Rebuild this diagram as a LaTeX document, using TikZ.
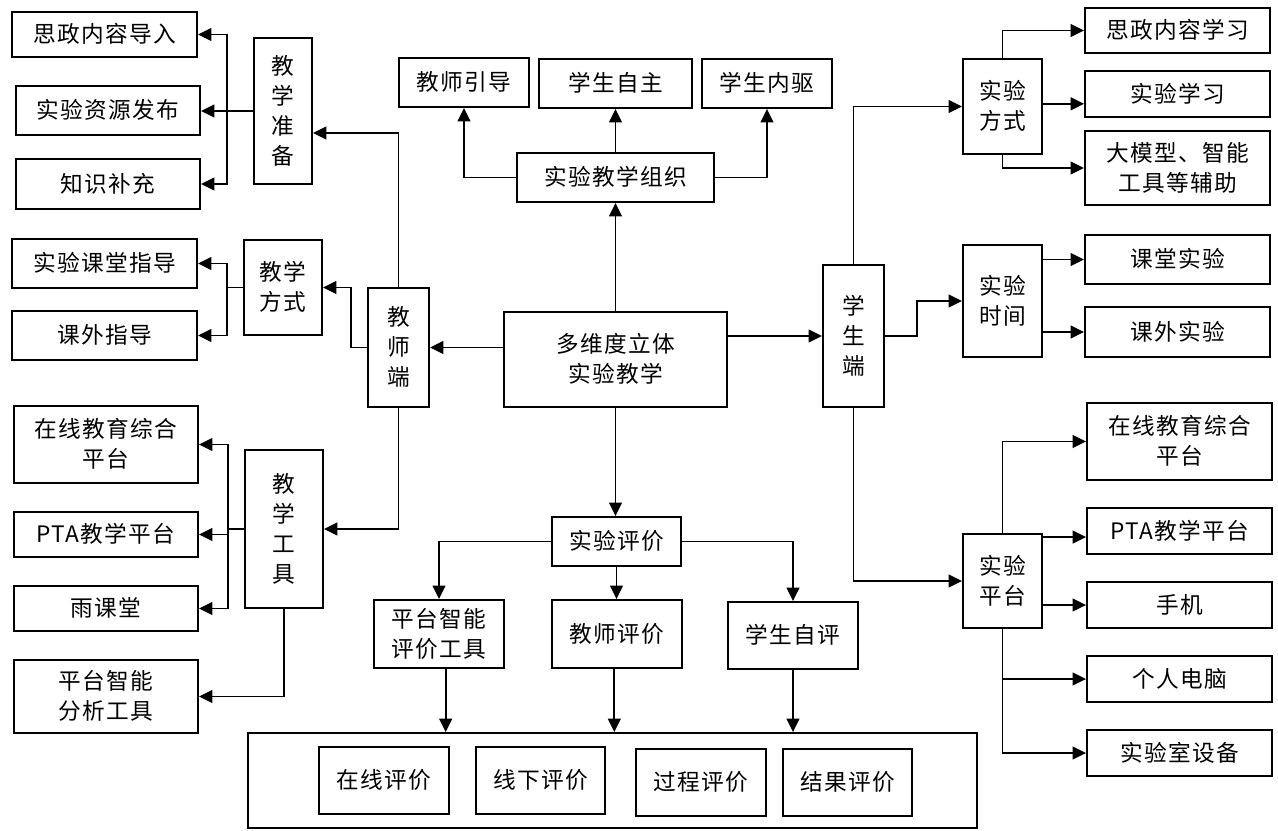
\documentclass[tikz,border=0pt]{standalone}
\usepackage{fontspec}
\setmainfont{Noto Sans CJK SC}[LetterSpace=6]
\usetikzlibrary{arrows.meta,fit,calc}
\newcommand\mybox[6]{\node[box, fit={(#2,#3) (#4,#5)}] (#1) {};
  \node[lbl] (#1-t) at ([yshift=0.4pt]#1.center) {#6};}
\begin{document}
\begin{tikzpicture}[x=0.75pt,y=-0.75pt,
  box/.style={draw, line width=1.4pt, inner sep=0pt},
  lbl/.style={inner sep=0pt, align=center, font=\fontsize{17}{22.5}\selectfont},
  arr/.style={line width=1.4pt, -{Triangle[length=10pt,width=9.5pt]}},
  ln/.style={line width=1.4pt}]
\useasboundingbox (0,0) rectangle (1278,831);
\fill[white] (0,0) rectangle (1278,831);
% left
\mybox{szdr}{12}{12}{197}{57}{思政内容导入}
\mybox{zyfb}{16}{86}{200}{135}{实验资源发布}
\mybox{zsbc}{16}{159}{200}{209}{知识补充}
\mybox{jxzb}{254}{38}{312}{184}{教\\学\\准\\备}
\mybox{ktzd}{12}{239}{197}{288}{实验课堂指导}
\mybox{kwzd}{12}{311}{197}{360}{课外指导}
\mybox{jxfs}{244}{240}{322}{335}{教学\\方式}
\mybox{jsd}{368}{288}{429}{407}{教\\师\\端}
\mybox{zxL}{14}{406}{198}{483}{在线教育综合\\平台}
\mybox{ptaL}{14}{512}{198}{557}{PTA教学平台}
\mybox{ykt}{14}{586}{198}{631}{雨课堂}
\mybox{fxgj}{14}{660}{198}{733}{平台智能\\分析工具}
\mybox{jxgj}{245}{450}{323}{608}{教\\学\\工\\具}
% center
\mybox{jsyd}{399}{58}{529}{107}{教师引导}
\mybox{xszz}{539}{59}{692}{108}{学生自主}
\mybox{xsnq}{702}{59}{832}{108}{学生内驱}
\mybox{zz}{517}{153}{714}{202}{实验教学组织}
\mybox{dwd}{504}{312}{727}{407}{多维度立体\\实验教学}
\mybox{sypj}{552}{517}{681}{566}{实验评价}
\mybox{ptpj}{374}{600}{504}{668}{平台智能\\评价工具}
\mybox{jspj}{552}{600}{682}{668}{教师评价}
\mybox{xszp}{728}{602}{858}{669}{学生自评}
\node[box, fit={(248,733) (977,828)}] (bb) {};
\mybox{zxpj}{319}{747}{449}{814}{在线评价}
\mybox{xxpj}{476}{747}{605}{814}{线下评价}
\mybox{gcpj}{636}{749}{766}{816}{过程评价}
\mybox{jgpj}{783}{749}{912}{816}{结果评价}
% right
\mybox{xsd}{823}{265}{884}{407}{学\\生\\端}
\mybox{syfs}{963}{59}{1042}{154}{实验\\方式}
\mybox{szxx}{1085}{8}{1270}{53}{思政内容学习}
\mybox{sjxx}{1085}{71}{1270}{117}{实验学习}
\mybox{dmx}{1085}{131}{1270}{205}{大模型、智能\\工具等辅助}
\mybox{sysj}{963}{245}{1042}{357}{实验\\时间}
\mybox{ktsy}{1085}{235}{1270}{284}{课堂实验}
\mybox{kwsy}{1085}{307}{1270}{357}{课外实验}
\mybox{sypt}{963}{534}{1042}{628}{实验\\平台}
\mybox{zxR}{1087}{403}{1272}{480}{在线教育综合\\平台}
\mybox{ptaR}{1087}{508}{1272}{554}{PTA教学平台}
\mybox{sj}{1087}{582}{1272}{628}{手机}
\mybox{grdn}{1087}{656}{1272}{702}{个人电脑}
\mybox{sysb}{1087}{730}{1272}{776}{实验室设备}
% left connectors
\draw[ln] (jxzb.west) -- ++(-26,0) coordinate (bA);
\draw[arr] (bA) |- (szdr.east);
\draw[arr] (bA) -- (bA -| zyfb.east);
\draw[arr] (bA) |- (zsbc.east);
\draw[arr] (jsd.north) |- ($(jxzb.east)+(0,22)$);
\draw[arr] (jsd.west) -- ++(-16,0) |- (jxfs.east);
\draw[ln] (jxfs.west) -- ++(-16,0) coordinate (bB);
\draw[arr] (bB) |- (ktzd.east);
\draw[arr] (bB) |- (kwzd.east);
\draw[arr] (jsd.south) |- (jxgj.east);
\draw[ln] (jxgj.west) -- ++(-16,0) coordinate (bC);
\draw[arr] (bC) |- (zxL.east);
\draw[arr] (bC) |- (ptaL.east);
\draw[arr] (bC) |- (ykt.east);
\draw[arr] (jxgj.south) |- (fxgj.east);
% center connectors
\draw[arr] (dwd.west |- jsd.east) -- (jsd.east);
\draw[arr] (dwd.east |- xsd.west) -- (xsd.west);
\draw[arr] (dwd.north) -- (zz.south);
\draw[arr] (zz.west) -| (jsyd.south);
\draw[arr] (zz.north) -- (zz.north |- xszz.south);
\draw[arr] (zz.east) -| (xsnq.south);
\draw[arr] (dwd.south) -- (dwd.south |- sypj.north);
\draw[arr] (sypj.west) -| (ptpj.north);
\draw[arr] (sypj.south) -- (sypj.south |- jspj.north);
\draw[arr] (sypj.east) -| (xszp.north);
\draw[arr] ([xshift=5pt]ptpj.south) -- ([xshift=5pt]ptpj.south |- bb.north);
\draw[arr] ([xshift=-2pt]jspj.south) -- ([xshift=-2pt]jspj.south |- bb.north);
\draw[arr] (xszp.south) -- (xszp.south |- bb.north);
% right connectors
\draw[arr] (xsd.north) |- (syfs.west);
\draw[arr] (syfs.north) |- (szxx.west);
\draw[arr] ([yshift=2pt]syfs.east) -- ([yshift=2pt]syfs.east -| sjxx.west);
\draw[arr] (syfs.south) |- (dmx.west);
\draw[arr] (xsd.east) -- ++(32,0) |- (sysj.west);
\draw[arr] (sysj.east |- ktsy.west) -- (ktsy.west);
\draw[arr] (sysj.east |- kwsy.west) -- (kwsy.west);
\draw[arr] (xsd.south) |- (sypt.west);
\draw[arr] (sypt.north) |- (zxR.west);
\draw[arr] ([yshift=-3pt]sypt.north east) -- ([yshift=-3pt]sypt.north east -| ptaR.west);
\draw[arr] (sypt.east |- sj.west) -- (sj.west);
\draw[arr] (sypt.south) |- (grdn.west);
\draw[arr] (sypt.south) |- (sysb.west);
\end{tikzpicture}
\end{document}
